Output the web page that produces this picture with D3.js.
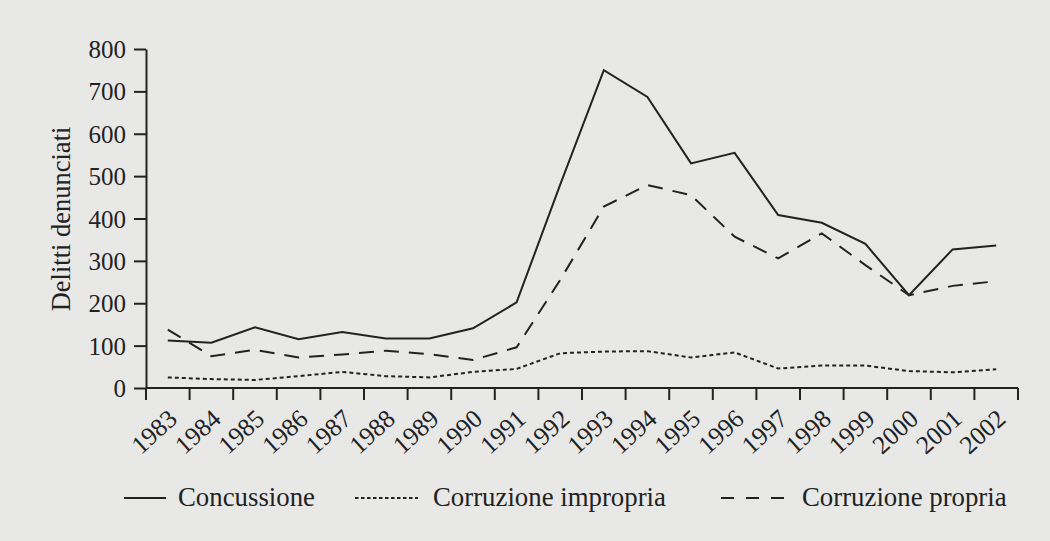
<!DOCTYPE html>
<html>
<head>
<meta charset="utf-8">
<script src="https://cdn.jsdelivr.net/npm/d3@7"></script>
<style>
  html, body { margin: 0; padding: 0; background: #e8e8e7; }
  svg { display: block; }
  text { font-family: "Liberation Serif", "DejaVu Serif", serif; fill: #222; }
</style>
</head>
<body>
<svg id="chart" width="1050" height="541"></svg>
<script>
const years = ["1983","1984","1985","1986","1987","1988","1989","1990","1991","1992",
               "1993","1994","1995","1996","1997","1998","1999","2000","2001","2002"];
const concussione = [112,107,143,115,132,117,117,141,202,480,750,687,530,555,408,390,340,219,327,336];
const corruzioneImpropria = [25,21,19,28,38,28,25,38,45,82,86,87,72,84,46,53,53,40,37,44];
const corruzionePropria = [138,75,90,72,79,88,80,66,96,255,428,479,455,357,306,365,290,219,241,252];
const yTicks = [0,100,200,300,400,500,600,700,800];
const seriesNames = ["Concussione","Corruzione impropria","Corruzione propria"];

const svg = d3.select("#chart");
svg.append("rect").attr("width",1050).attr("height",541).attr("fill","#e8e8e7");

const x = d3.scaleBand().domain(years).range([146,1018]).padding(0);
const y = d3.scaleLinear().domain([0,800]).range([388,49]);
const ink = "#222";

// Y axis
const yAxis = svg.append("g").attr("transform","translate(146,0)")
  .call(d3.axisLeft(y).tickValues(yTicks).tickSize(12).tickSizeOuter(0).tickPadding(8));
yAxis.select(".domain").attr("stroke",ink).attr("stroke-width",2);
yAxis.selectAll(".tick line").attr("stroke",ink).attr("stroke-width",2);
yAxis.selectAll(".tick text").attr("font-size",25).attr("font-family","Liberation Serif").attr("fill",ink).attr("dy","0.34em");

// X axis line
svg.append("line").attr("x1",x.range()[0]).attr("x2",x.range()[1])
  .attr("y1",y(0)).attr("y2",y(0)).attr("stroke",ink).attr("stroke-width",2);
// boundary ticks
const bounds = years.map(d => x(d)).concat([x.range()[1]]);
svg.append("g").selectAll("line").data(bounds).join("line")
  .attr("x1",d=>d).attr("x2",d=>d).attr("y1",y(0)).attr("y2",y(0)+12)
  .attr("stroke",ink).attr("stroke-width",2);
// labels
svg.append("g").selectAll("text").data(years).join("text")
  .attr("transform", d => `translate(${x(d)+x.bandwidth()/2+11},${y(0)+33}) rotate(-42)`)
  .attr("text-anchor","end")
  .attr("font-size",25.5)
  .text(d=>d);

// Y label
svg.append("text").attr("transform","translate(70,219) rotate(-90)")
  .attr("text-anchor","middle").attr("font-size",26.5).text("Delitti denunciati");

// Lines
const line = d3.line().x((d,i)=>x(years[i])+x.bandwidth()/2).y(d=>y(d));
const styles = [
  {data: concussione, dash: null},
  {data: corruzioneImpropria, dash: "4,3"},
  {data: corruzionePropria, dash: "15,10"}
];
styles.forEach(s => {
  svg.append("path").attr("d", line(s.data)).attr("fill","none")
    .attr("stroke",ink).attr("stroke-width",2)
    .attr("stroke-dasharray", s.dash);
});

// Legend
const legend = [
  {name: seriesNames[0], x1: 124, x2: 166, tx: 178, dash: null},
  {name: seriesNames[1], x1: 355, x2: 418, tx: 433, dash: "3.5,2.5"},
  {name: seriesNames[2], x1: 721, x2: 784, tx: 802, dash: "13,12"}
];
legend.forEach(l => {
  svg.append("line").attr("x1",l.x1).attr("x2",l.x2).attr("y1",498).attr("y2",498)
    .attr("stroke",ink).attr("stroke-width",2).attr("stroke-dasharray",l.dash);
  svg.append("text").attr("x",l.tx).attr("y",506).attr("font-size",26.8).text(l.name);
});
</script>
</body>
</html>
